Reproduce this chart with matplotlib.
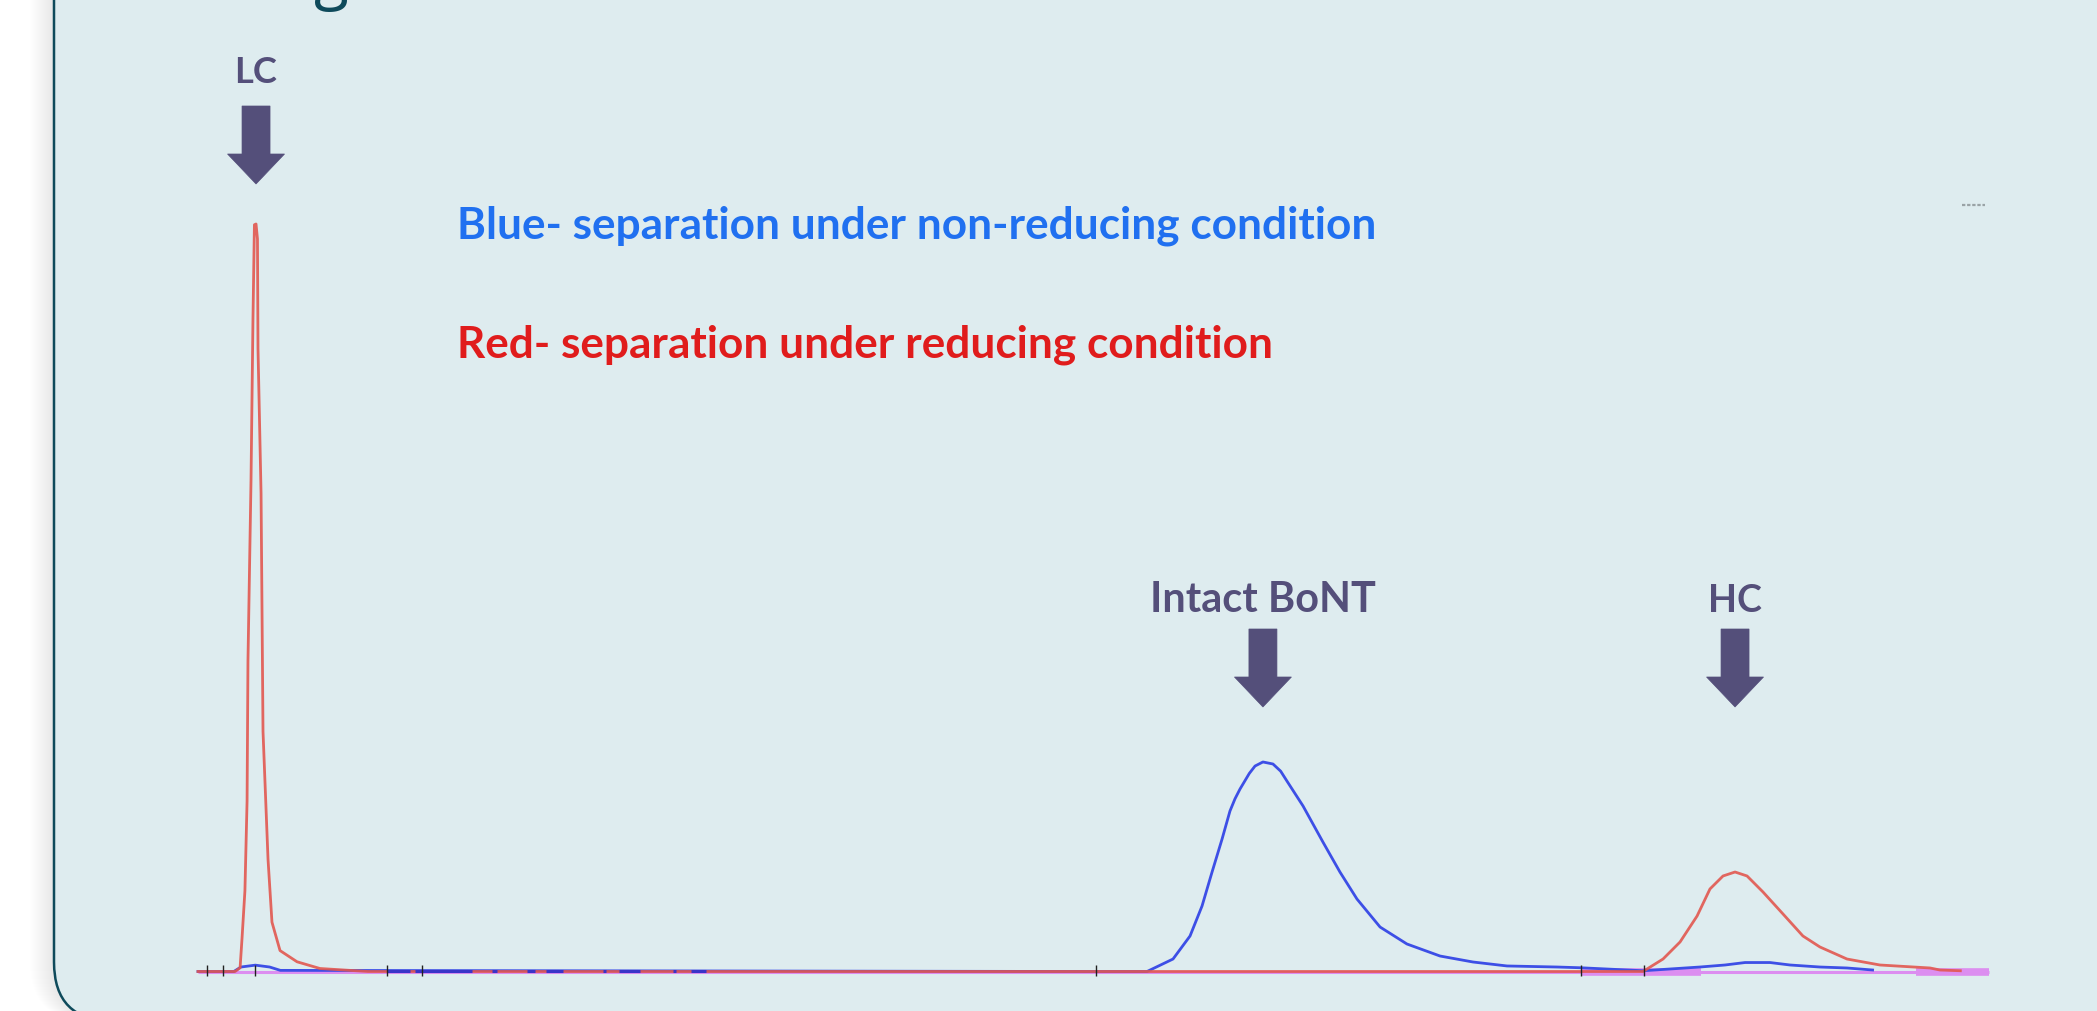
import numpy as np
import matplotlib
matplotlib.use("Agg")
import matplotlib.pyplot as plt
from matplotlib.patches import FancyBboxPatch, Polygon
from matplotlib import font_manager

# ---------------- data ----------------
# x: relative migration time (0-100), y: signal (% of LC peak)
red_x = [0, 2.07, 2.35, 2.46, 2.62, 2.74, 2.79, 2.96, 3.07, 3.15, 3.24, 3.32, 3.35,
         3.52, 3.63, 3.80, 3.91, 4.13, 4.58, 5.53, 6.81, 9.49, 50.0, 80.68, 81.80,
         82.75, 83.70, 84.42, 85.15, 85.82, 86.49, 87.38, 88.50, 89.61, 90.56,
         92.07, 93.91, 96.71, 97.26, 98.4]
red_y = [0, 0, 0.5, 4.5, 10.8, 22.8, 41.6, 65.7, 87.4, 99.9, 100, 98, 83.3,
         64, 32.1, 21.7, 15, 6.6, 2.8, 1.3, 0.4, 0, 0, 0, 1.67,
         3.95, 7.42, 11.04, 12.78, 13.31, 12.78, 10.64, 7.69, 4.75, 3.28,
         1.67, 0.87, 0.47, 0.2, 0.1]

blue_x = [0, 2.0, 2.4, 3.2, 4.0, 4.6, 50.0, 52.99, 54.44, 55.39, 56.06, 56.62,
          57.18, 57.62, 57.90, 58.18, 58.70, 59.02, 59.46, 60.02, 60.45, 60.80,
          61.70, 62.81, 63.76, 64.71, 66.00, 67.50, 69.35, 71.19, 73.09, 75.88,
          77.2, 80.7, 83.86, 85.26, 86.38, 87.77, 88.89, 90.56, 92.07, 93.5]
blue_y = [0, 0, 0.6, 0.85, 0.6, 0.15, 0, 0, 1.67, 4.75, 8.76, 13.31,
          17.73, 21.47, 23.1, 24.41, 26.5, 27.49, 28.03, 27.76, 26.8, 25.48,
          22.14, 17.32, 13.31, 9.70, 5.95, 3.68, 2.07, 1.27, 0.74, 0.60,
          0.5, 0.1, 0.6, 0.87, 1.2, 1.2, 0.87, 0.6, 0.47, 0.2]

violet_x = [0, 100]
violet_y = [0, 0]
violet_band_x = [(77.27, 83.9), (95.9, 100)]

blue_dash_x = [(10.55, 11.84), (12.12, 15.30), (16.42, 16.69), (18.37, 18.82),
               (19.43, 20.38), (22.61, 22.78), (23.51, 24.68), (26.52, 26.69),
               (27.53, 28.36)]

event_ticks_x = [0.50, 1.40, 3.18, 10.55, 12.51, 50.14, 77.22, 80.74]

peak_labels = ["LC", "Intact BoNT", "HC"]
legend_blue = "Blue- separation under non-reducing condition"
legend_red = "Red- separation under reducing condition"

# ---------------- figure ----------------
W, H = 2097, 1012
fig = plt.figure(figsize=(W / 100, H / 100), dpi=100)
fig.patch.set_facecolor("white")

bg = fig.add_axes([0, 0, 1, 1], zorder=0)
bg.set_xlim(0, W)
bg.set_ylim(H, 0)
bg.axis("off")

PANEL = "#deecef"
BORDER = "#0e4a5b"
LABEL = "#544f7a"

# soft shadow left of the panel
for k in range(1, 25):
    bg.add_patch(FancyBboxPatch((54 - k, -200), 2400, 1222,
                                boxstyle="round,pad=0,rounding_size=59",
                                fc="black", ec="none", alpha=0.0022))
bg.add_patch(FancyBboxPatch((54, -200), 2400, 1222,
                            boxstyle="round,pad=0,rounding_size=59",
                            fc=PANEL, ec=BORDER, lw=1.8))

# clipped title descender at top
bg.text(314, -3, "g", ha="left", va="baseline", fontsize=46,
        family="Open Sans", color=BORDER)

# tiny grey mark top right
bg.plot([1962, 1985], [206, 206], color="#9aa3a6", lw=1.6, ls=(0, (1.5, 0.8)))

# chromatogram axes
base_px, top_px = 972.5, 225.0
upp = (base_px - top_px) / 100.0
ylo, yhi = -5, 105
bot_px = base_px - ylo * upp
tp_px = top_px - (yhi - 100) * upp
ax = fig.add_axes([198 / W, (H - bot_px) / H, (1989 - 198) / W, (bot_px - tp_px) / H],
                  zorder=1)
ax.set_xlim(0, 100)
ax.set_ylim(ylo, yhi)
ax.axis("off")
ax.patch.set_alpha(0)

VIOLET = "#dc8ef0"
ax.plot(violet_x, violet_y, color=VIOLET, lw=2.2, clip_on=False, zorder=1,
        solid_capstyle="butt")
for a, b in violet_band_x:
    ax.plot([a, b], [0, 0], color=VIOLET, lw=5.5, clip_on=False, zorder=1,
            solid_capstyle="butt")
ax.plot(blue_x, blue_y, color="#3d4fe6", lw=2.0, clip_on=False, zorder=2)
ax.plot(red_x, red_y, color="#e2574f", lw=2.0, clip_on=False, zorder=3, alpha=0.9)
for a, b in blue_dash_x:
    ax.plot([a, b], [0.05, 0.05], color="#3a34c8", lw=2.2, clip_on=False, zorder=4,
            solid_capstyle="butt")
ax.vlines(event_ticks_x, -0.6, 0.9, color="#222222", lw=1.0, zorder=5, clip_on=False)

# peak positions from the data
rx = np.array(red_x); ry = np.array(red_y)
bx = np.array(blue_x); by = np.array(blue_y)
lc_x = rx[np.argmax(np.where(rx < 40, ry, -1))]
hc_x = rx[np.argmax(np.where(rx > 40, ry, -1))]
bont_x = bx[np.argmax(by)]
peak_x = [lc_x, bont_x, hc_x]

renderer = fig.canvas.get_renderer()


def fit(t, target_w):
    bb = t.get_window_extent(renderer)
    t.set_fontsize(t.get_fontsize() * target_w / bb.width)


names = {f.name for f in font_manager.fontManager.ttflist}
FONT = ["Liberation Sans Narrow", "Lato", "DejaVu Sans"] if "Liberation Sans Narrow" in names \
    else ["Lato", "DejaVu Sans"]

label_y = [83, 612, 612]
arrow_top = [107, 630, 630]
label_w = [43, 226, 54]
for lab, xd, ly, at, lw_ in zip(peak_labels, peak_x, label_y, arrow_top, label_w):
    cx = ax.transData.transform((xd, 0))[0]
    t = bg.text(cx, ly, lab, ha="center", va="baseline", fontsize=30,
                fontweight="bold", family=FONT, color=LABEL)
    fit(t, lw_)
    pts = [(cx - 14, at), (cx + 14, at), (cx + 14, at + 48), (cx + 28.5, at + 48),
           (cx, at + 78), (cx - 28.5, at + 48), (cx - 14, at + 48)]
    bg.add_patch(Polygon(pts, closed=True, fc=LABEL, ec=LABEL, lw=0.5))

tb = bg.text(457, 238, legend_blue, ha="left", va="baseline", fontsize=30,
             fontweight="bold", family=FONT, color="#2070f0")
fit(tb, 916)
tr = bg.text(457, 357, legend_red, ha="left", va="baseline", fontsize=30,
             fontweight="bold", family=FONT, color="#e01c1c")
fit(tr, 814)

fig.savefig("out.png", dpi=100)
